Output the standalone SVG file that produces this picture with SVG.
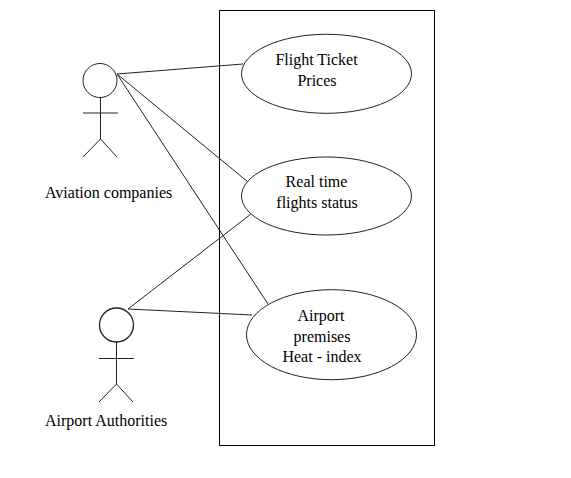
<svg xmlns="http://www.w3.org/2000/svg" width="571" height="478" viewBox="0 0 571 478">
<style>
.s{fill:none;stroke:#222;stroke-width:1}
.u{fill:#fff;stroke:#222;stroke-width:1}
text{font-family:"Liberation Serif","Times New Roman",serif;font-size:16px;fill:#000;text-anchor:middle}
.l{text-anchor:start}
</style>
<rect width="571" height="478" fill="#fff"/>
<rect id="boundary" x="219.500" y="10.500" width="215" height="435" fill="none" stroke="#000"/>
<g id="connectors" class="s">
<line x1="117" y1="74" x2="243" y2="64"/>
<line x1="117" y1="74" x2="248" y2="182"/>
<line x1="117" y1="74" x2="268" y2="304"/>
<line x1="128" y1="309" x2="251" y2="214"/>
<line x1="128" y1="309" x2="252" y2="315"/>
</g>
<g id="actor-aviation" class="s">
<circle cx="100" cy="80.500" r="17"/>
<path d="M100.500 97V139M83 113H118M100.500 139L83 157M100.500 139L117 157"/>
<text class="l" x="45" y="198" stroke="none">Aviation companies</text>
</g>
<g id="actor-airport" class="s">
<circle cx="116.500" cy="325" r="17" stroke-width="1.300"/>
<path d="M116.500 342V384M99 358.500H134M116.500 384L99 402M116.500 384L133 402"/>
<text class="l" x="45" y="426" stroke="none">Airport Authorities</text>
</g>
<g id="uc-prices">
<ellipse class="u" cx="326.500" cy="73.800" rx="85" ry="39.500"/>
<text x="316.500" y="65">Flight Ticket</text>
<text x="317" y="86">Prices</text>
</g>
<g id="uc-status">
<ellipse class="u" cx="326.500" cy="196" rx="85" ry="39"/>
<text x="316.500" y="187">Real time</text>
<text x="317" y="208">flights status</text>
</g>
<g id="uc-heat">
<ellipse class="u" cx="331.500" cy="334.700" rx="85" ry="45"/>
<text x="321" y="321">Airport</text>
<text x="322" y="342">premises</text>
<text x="322" y="362">Heat - index</text>
</g>
</svg>
